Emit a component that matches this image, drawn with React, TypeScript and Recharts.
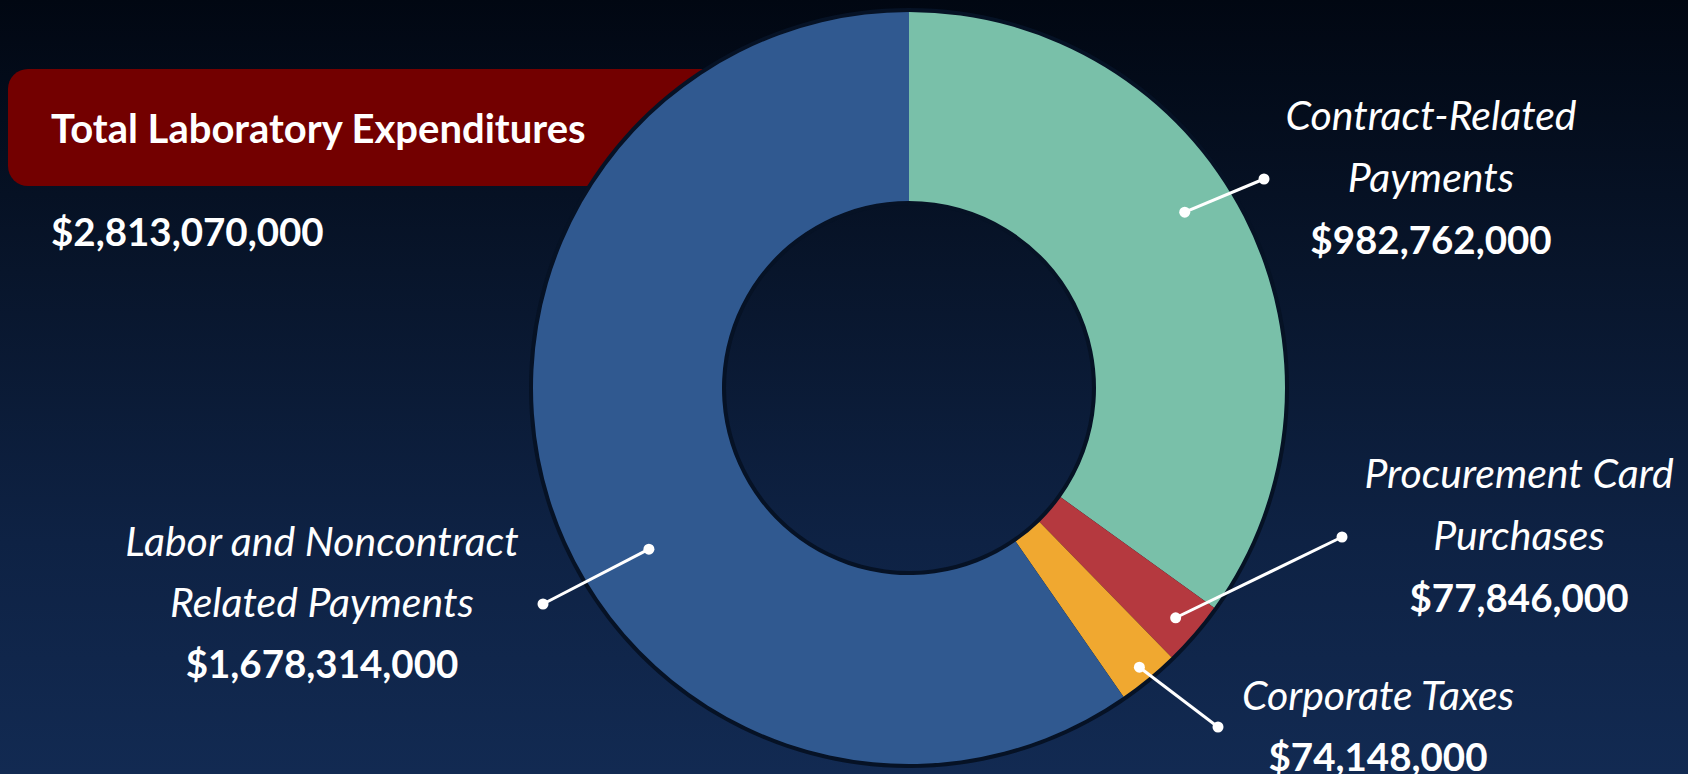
import React from 'react';
import { PieChart, Pie, Cell } from 'recharts';

const categories = [
  'Contract-Related Payments',
  'Procurement Card Purchases',
  'Corporate Taxes',
  'Labor and Noncontract Related Payments',
];
const amounts = [982762000, 77846000, 74148000, 1678314000];
const labelLines = [
  ['Contract-Related', 'Payments'],
  ['Procurement Card', 'Purchases'],
  ['Corporate Taxes'],
  ['Labor and Noncontract', 'Related Payments'],
];
const colors = ['#79c0a9', '#b5393f', '#f0a830', '#305990'];

const total = amounts.reduce((a, b) => a + b, 0);
const data = categories.map((name, i) => ({ name, value: amounts[i] }));
const ringData = [{ name: 'ring', value: total }];

const fmt = (v: number) => '$' + v.toLocaleString('en-US');

// leader line + text placement, relative to the pie centre
const layout = [
  { angleOff: 5.4, r: 327, end: [355, -209], text: [522, -258], gap: 62 },
  { angleOff: 0, r: 352, end: [433, 149], text: [610, 100], gap: 62 },
  { angleOff: 0, r: 362, end: [309, 339], text: [469, 322], gap: 61 },
  { angleOff: 14.4, r: 306, end: [-366, 216], text: [-587, 168], gap: 61 },
];

const RAD = Math.PI / 180;
const FONT = 'Lato, "Open Sans", sans-serif';

const renderLabel = (props: any) => {
  const { cx, cy, midAngle, index } = props;
  const l = layout[index];
  const a = (midAngle + l.angleOff) * RAD;
  const sx = cx + l.r * Math.cos(a);
  const sy = cy - l.r * Math.sin(a);
  const ex = cx + l.end[0];
  const ey = cy + l.end[1];
  const tx = cx + l.text[0];
  const ty = cy + l.text[1];
  const lines = labelLines[index];
  return (
    <g key={'lbl' + index}>
      <line x1={sx} y1={sy} x2={ex} y2={ey} stroke="#fff" strokeWidth={3} />
      <circle cx={sx} cy={sy} r={5.5} fill="#fff" />
      <circle cx={ex} cy={ey} r={5.5} fill="#fff" />
      {lines.map((t, j) => (
        <text key={j} x={tx} y={ty + j * l.gap} textAnchor="middle" fill="#fff"
          fontFamily={FONT} fontStyle="italic" fontSize={41}>
          {t}
        </text>
      ))}
      <text x={tx} y={ty + lines.length * l.gap} textAnchor="middle" fill="#fff"
        fontFamily={FONT} fontWeight={700} fontSize={38.5}>
        {fmt(amounts[index])}
      </text>
    </g>
  );
};

export default function App() {
  return (
    <div style={{
      position: 'absolute', left: 0, top: 0, width: 1688, height: 774, overflow: 'hidden',
      background: 'linear-gradient(180deg, #010712 0%, #08152b 35%, #0e2244 70%, #122a52 100%)',
      fontFamily: FONT,
    }}>
      <div style={{
        position: 'absolute', left: 8, top: 69, width: 720, height: 117,
        background: '#730000', borderRadius: 20,
      }} />
      <div style={{
        position: 'absolute', left: 51, top: 103, color: '#fff', fontWeight: 700, fontSize: 40,
        lineHeight: '50px', whiteSpace: 'nowrap',
      }}>
        Total Laboratory Expenditures
      </div>
      <div style={{
        position: 'absolute', left: 51, top: 206, color: '#fff', fontWeight: 700, fontSize: 38.5,
        lineHeight: '50px', whiteSpace: 'nowrap',
      }}>
        {fmt(total)}
      </div>
      <div style={{ position: 'absolute', left: 0, top: 0 }}>
        <PieChart width={1688} height={774}>
          <Pie data={ringData} dataKey="value" cx={904} cy={383} innerRadius={183} outerRadius={380}
            startAngle={90} endAngle={-270} stroke="none" fill="#061225" isAnimationActive={false} />
          <Pie data={data} dataKey="value" nameKey="name" cx={904} cy={383} innerRadius={187} outerRadius={376}
            startAngle={90} endAngle={-270} stroke="none" label={renderLabel} labelLine={false}
            isAnimationActive={false}>
            {data.map((_, i) => (
              <Cell key={i} fill={colors[i]} />
            ))}
          </Pie>
        </PieChart>
      </div>
    </div>
  );
}
